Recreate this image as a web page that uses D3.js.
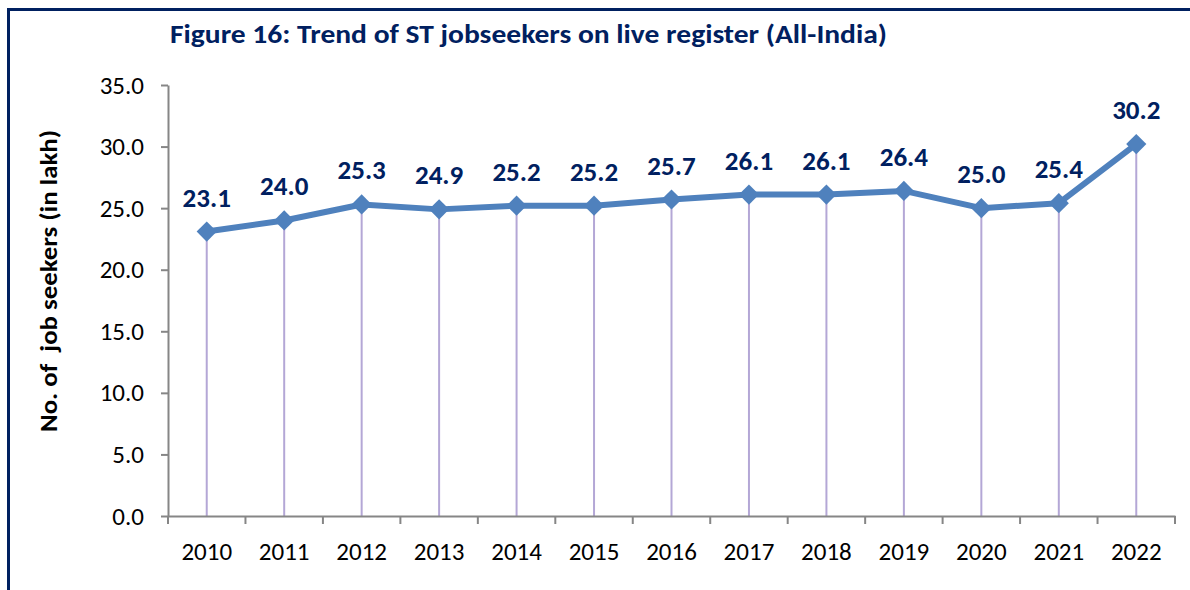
<!DOCTYPE html>
<html>
<head>
<meta charset="utf-8">
<script src="https://cdn.jsdelivr.net/npm/d3@7"></script>
<style>
  html, body { margin: 0; padding: 0; background: #fff; }
  svg { display: block; font-family: Carlito, Lato, "Open Sans", sans-serif; }
</style>
</head>
<body>
<div id="chart"></div>
<script>
const years = ['2010', '2011', '2012', '2013', '2014', '2015', '2016', '2017', '2018', '2019', '2020', '2021', '2022'];
const jobseekers = [23.1, 24.0, 25.3, 24.9, 25.2, 25.2, 25.7, 26.1, 26.1, 26.4, 25.0, 25.4, 30.2];
const yTicks = [0, 5, 10, 15, 20, 25, 30, 35];

const width = 1190;
const height = 590;
const margin = { top: 85, right: 15, bottom: 74, left: 168 };
const navy = '#002060';
const font = 'Carlito, Lato, "Open Sans", sans-serif';

const svg = d3.select('#chart').append('svg')
  .attr('width', width)
  .attr('height', height);

// frame: only top and left edges are visible in the crop
svg.append('path')
  .attr('d', `M8.5,${height} V9.5 H${width}`)
  .attr('fill', 'none')
  .attr('stroke', navy)
  .attr('stroke-width', 3);

svg.append('text')
  .attr('x', 170)
  .attr('y', 43)
  .attr('fill', navy)
  .attr('font-size', 26)
  .attr('font-weight', 'bold')
  .attr('textLength', 717)
  .attr('lengthAdjust', 'spacingAndGlyphs')
  .text('Figure 16: Trend of ST jobseekers on live register (All-India)');

const x = d3.scaleBand().domain(years).range([margin.left, width - margin.right]);
const y = d3.scaleLinear().domain([0, 35]).range([height - margin.bottom, margin.top]);
const cx = (d) => x(d) + x.bandwidth() / 2;

// drop lines
svg.append('g').selectAll('line').data(years).join('line')
  .attr('x1', (d) => cx(d))
  .attr('x2', (d) => cx(d))
  .attr('y1', (d, i) => y(jobseekers[i]))
  .attr('y2', y(0))
  .attr('stroke', '#b4a7d6')
  .attr('stroke-width', 2);

// y axis
const yAxis = svg.append('g')
  .attr('transform', `translate(${margin.left},0)`)
  .call(d3.axisLeft(y).tickValues(yTicks).tickFormat(d3.format('.1f')).tickSize(7).tickSizeOuter(0));
yAxis.select('.domain').attr('stroke', '#868686').attr('stroke-width', 2);
yAxis.selectAll('.tick line').attr('stroke', '#868686').attr('stroke-width', 2);
yAxis.selectAll('.tick text')
  .attr('x', -24)
  .attr('font-size', 25)
  .attr('font-family', font)
  .attr('fill', '#000');

// x axis
const xAxis = svg.append('g')
  .attr('transform', `translate(0,${y(0)})`)
  .call(d3.axisBottom(x).tickSize(0).tickSizeOuter(0));
xAxis.select('.domain').attr('stroke', '#868686').attr('stroke-width', 2);
xAxis.selectAll('.tick text')
  .attr('y', 44)
  .attr('dy', null)
  .attr('font-size', 25)
  .attr('font-family', font)
  .attr('fill', '#000');
// boundary ticks between categories
svg.append('g').selectAll('line').data(d3.range(years.length + 1)).join('line')
  .attr('x1', (i) => margin.left + i * x.step())
  .attr('x2', (i) => margin.left + i * x.step())
  .attr('y1', y(0))
  .attr('y2', y(0) + 8)
  .attr('stroke', '#868686')
  .attr('stroke-width', 2);

// series line
svg.append('path')
  .datum(years)
  .attr('d', d3.line().x((d) => cx(d)).y((d, i) => y(jobseekers[i])))
  .attr('fill', 'none')
  .attr('stroke', '#4f81bd')
  .attr('stroke-width', 6)
  .attr('stroke-linejoin', 'round');

// diamond markers
svg.append('g').selectAll('path').data(years).join('path')
  .attr('transform', (d, i) => `translate(${cx(d)},${y(jobseekers[i])})`)
  .attr('d', d3.symbol(d3.symbolDiamond2, 260)())
  .attr('fill', '#4f81bd');

// value labels
svg.append('g').selectAll('text').data(years).join('text')
  .attr('x', (d) => cx(d))
  .attr('y', (d, i) => y(jobseekers[i]) - 25)
  .attr('text-anchor', 'middle')
  .attr('font-size', 27)
  .attr('font-weight', 900)
  .attr('fill', navy)
  .text((d, i) => jobseekers[i].toFixed(1));

// y axis title (keeps the double space of the original)
svg.append('text')
  .attr('transform', 'translate(57,281) rotate(-90)')
  .attr('text-anchor', 'middle')
  .attr('font-size', 25)
  .attr('font-weight', 'bold')
  .attr('fill', '#000')
  .style('white-space', 'pre')
  .attr('textLength', 302)
  .attr('lengthAdjust', 'spacingAndGlyphs')
  .text('No. of  job seekers (in lakh)');
</script>
</body>
</html>
